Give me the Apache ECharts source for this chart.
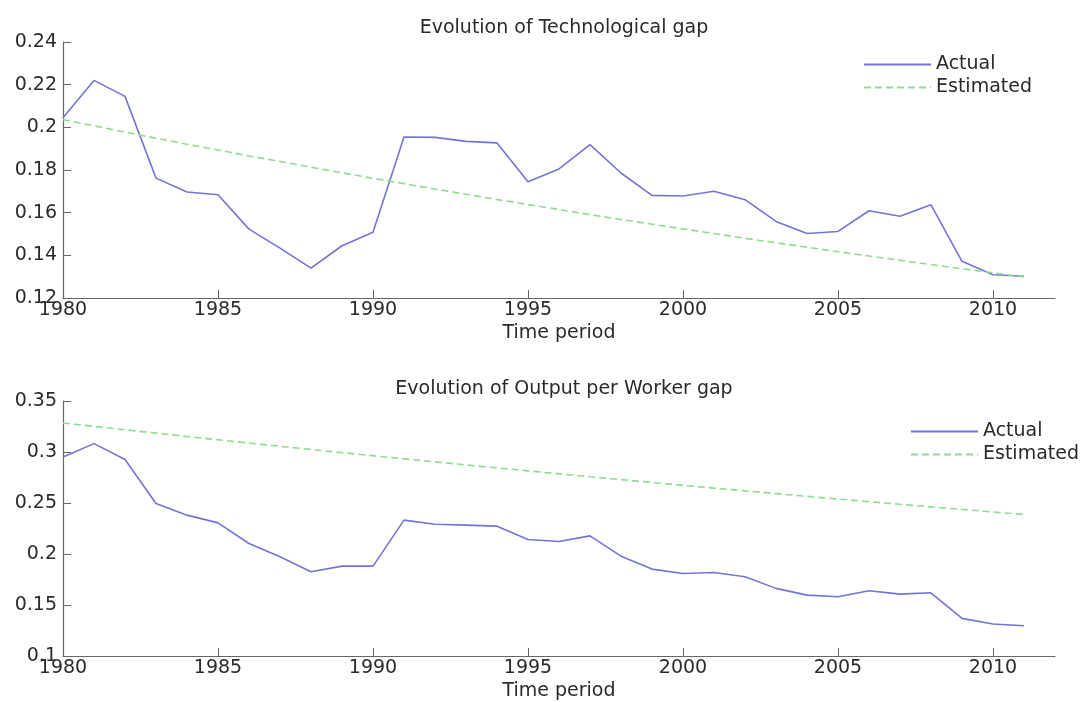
<!DOCTYPE html>
<html>
<head>
<meta charset="utf-8">
<script src="https://cdn.jsdelivr.net/npm/echarts@6/dist/echarts.min.js"></script>
<style>
html,body{margin:0;padding:0;background:#fff;}
#chart{width:1083px;height:702px;}
</style>
</head>
<body>
<div id="chart"></div>
<script>
const years = [1980,1981,1982,1983,1984,1985,1986,1987,1988,1989,1990,1991,1992,1993,1994,1995,
               1996,1997,1998,1999,2000,2001,2002,2003,2004,2005,2006,2007,2008,2009,2010,2011];
const xTicks = [1980,1985,1990,1995,2000,2005,2010];

const techActual = [0.2045,0.2220,0.2145,0.1762,0.1697,0.1684,0.1523,0.1434,0.1340,0.1445,0.1508,0.1955,0.1953,0.1934,0.1927,0.1745,
                    0.1805,0.1919,0.1786,0.1681,0.1678,0.1700,0.1661,0.1559,0.1502,0.1512,0.1609,0.1583,0.1637,0.1372,0.1309,0.1302];
const techEstimated = [0.2036,0.2007,0.1978,0.1949,0.1921,0.1894,0.1866,0.1840,0.1813,0.1787,0.1761,0.1736,0.1711,0.1686,0.1662,0.1638,
                       0.1615,0.1591,0.1568,0.1546,0.1524,0.1502,0.1480,0.1459,0.1438,0.1417,0.1397,0.1377,0.1357,0.1337,0.1318,0.1299];

const outActual = [0.2952,0.3082,0.2926,0.2495,0.2381,0.2305,0.2103,0.1973,0.1826,0.1881,0.1881,0.2332,0.2292,0.2283,0.2273,0.2142,
                   0.2122,0.2178,0.1979,0.1852,0.1809,0.1819,0.1777,0.1663,0.1597,0.1581,0.1640,0.1607,0.1620,0.1369,0.1313,0.1297];
const outEstimated = [0.3285,0.3251,0.3218,0.3185,0.3152,0.3120,0.3088,0.3056,0.3025,0.2994,0.2963,0.2933,0.2903,0.2873,0.2844,0.2815,
                      0.2786,0.2757,0.2729,0.2701,0.2673,0.2646,0.2619,0.2592,0.2565,0.2539,0.2513,0.2487,0.2462,0.2437,0.2412,0.2387];

const techTicks = [0.12,0.14,0.16,0.18,0.2,0.22,0.24];
const outTicks = [0.1,0.15,0.2,0.25,0.3,0.35];

const FONT = 'DejaVu Sans';
const TXT = '#2a2a2a';
const AX = '#666';
const BLUE = '#7474d6';
const GREEN = '#8edc8e';

function pairs(vals){ return years.map((y,i)=>[y, vals[i]]); }

function xAxisCfg(gi){
  return {
    gridIndex: gi, type:'value', min:1980, max:2012, interval:5,
    name:'Time period', nameLocation:'middle', nameGap:26,
    nameTextStyle:{fontFamily:FONT,fontSize:19,color:TXT,verticalAlign:'top'},
    axisLine:{lineStyle:{color:AX,width:1.2}},
    axisTick:{inside:true,length:8,lineStyle:{color:AX},customValues:xTicks},
    axisLabel:{fontFamily:FONT,fontSize:19,color:TXT,margin:3,customValues:xTicks,
               formatter:v=>String(v)},
    splitLine:{show:false}
  };
}
function yAxisCfg(gi,min,max,interval,ticks){
  return {
    gridIndex: gi, type:'value', min:min, max:max, interval:interval,
    axisLine:{show:true,lineStyle:{color:AX,width:1.2}},
    axisTick:{show:true,inside:true,length:8,lineStyle:{color:AX},customValues:ticks},
    axisLabel:{fontFamily:FONT,fontSize:19,color:TXT,margin:6,customValues:ticks,
               formatter:v=>String(parseFloat(Number(v).toFixed(4)))},
    splitLine:{show:false}
  };
}
function legendCfg(left,top,gi){
  return {
    orient:'vertical', left:left, top:top, padding:0, itemWidth:67, itemHeight:18, itemGap:4,
    itemStyle:{opacity:0},
    textStyle:{fontFamily:FONT,fontSize:19,color:TXT,lineHeight:18},
    data: gi===0 ? ['Actual','Estimated'] : ['Actual ','Estimated ']
  };
}

const chart = echarts.init(document.getElementById('chart'), null, {renderer:'canvas'});
chart.setOption({
  backgroundColor:'#fff',
  animation:false,
  title:[
    {text:'Evolution of Technological gap', left:559, top:14, textAlign:'center',
     textStyle:{fontFamily:FONT,fontSize:19,fontWeight:'normal',color:TXT}},
    {text:'Evolution of Output per Worker gap', left:559, top:375, textAlign:'center',
     textStyle:{fontFamily:FONT,fontSize:19,fontWeight:'normal',color:TXT}}
  ],
  legend:[ legendCfg(863,55,0), legendCfg(910,422,1) ],
  grid:[
    {left:63, top:42, width:992, height:256, containLabel:false},
    {left:63, top:401, width:992, height:255, containLabel:false}
  ],
  xAxis:[ xAxisCfg(0), xAxisCfg(1) ],
  yAxis:[ yAxisCfg(0,0.12,0.24,0.02,techTicks), yAxisCfg(1,0.1,0.35,0.05,outTicks) ],
  series:[
    {name:'Actual', type:'line', xAxisIndex:0, yAxisIndex:0, data:pairs(techActual),
     symbol:'none', lineStyle:{color:BLUE,width:1.6}, itemStyle:{color:BLUE}},
    {name:'Estimated', type:'line', xAxisIndex:0, yAxisIndex:0, data:pairs(techEstimated),
     symbol:'none', lineStyle:{color:GREEN,width:1.6,type:[7,4]}, itemStyle:{color:GREEN}},
    {name:'Actual ', type:'line', xAxisIndex:1, yAxisIndex:1, data:pairs(outActual),
     symbol:'none', lineStyle:{color:BLUE,width:1.6}, itemStyle:{color:BLUE}},
    {name:'Estimated ', type:'line', xAxisIndex:1, yAxisIndex:1, data:pairs(outEstimated),
     symbol:'none', lineStyle:{color:GREEN,width:1.6,type:[7,4]}, itemStyle:{color:GREEN}}
  ]
});
</script>
</body>
</html>
